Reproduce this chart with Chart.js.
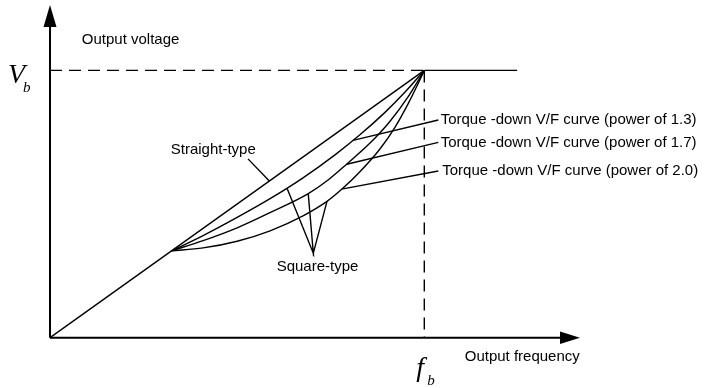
<!DOCTYPE html>
<html>
<head>
<meta charset="utf-8">
<script src="https://cdn.jsdelivr.net/npm/chart.js@4"></script>
<style>
  html, body { margin: 0; padding: 0; background: #fff; }
  #wrap { width: 707px; height: 388px; }
</style>
</head>
<body>
<div id="wrap"><canvas id="vf" width="707" height="388"></canvas></div>
<script>
// frequency and voltage in % of base values (f_b = 100, V_b = 100)
const straightF = [0, 100];
const straightV = [0, 100];
const curve13F = [32.5, 40.9, 50.0, 58.8, 67.6, 76.4, 82.8, 89.5, 94.8, 100];
const curve13V = [32.5, 38.2, 45.0, 52.0, 59.8, 68.7, 75.9, 84.3, 91.8, 100];
const curve17F = [32.5, 40.9, 50.0, 58.8, 68.9, 74.3, 79.4, 85.5, 90.8, 95.7, 100];
const curve17V = [32.5, 36.3, 41.1, 46.8, 53.8, 59.0, 65.1, 72.8, 80.9, 90.2, 100];
const curve20F = [32.5, 40.9, 50.0, 58.8, 67.6, 74.0, 78.0, 82.8, 88.2, 92.2, 95.7, 98.3, 100];
const curve20V = [32.5, 33.6, 36.1, 40.0, 45.6, 51.0, 55.6, 62.1, 70.7, 78.8, 87.6, 94.9, 100];
const baseVoltF = [0, 100];
const baseVoltV = [100, 100];
const flatF = [100, 124.8];
const flatV = [100, 100];
const baseFreqF = [100, 100];
const baseFreqV = [100, 0];

// callout leader lines
const leaderStraight = [[52.9, 66.9], [58.6, 58.6]];
const leaderSquare = [[63.3, 56.0], [70.35, 31.6], [69.0, 53.8], [70.35, 31.6], [74.0, 51.0]];
const leader13 = [[103.74, 81.45], [80.95, 73.8]];
const leader17 = [[103.74, 73.1], [79.27, 64.9]];
const leader20 = [[103.74, 62.36], [77.9, 55.6]];

const torqueLabels = [
  'Torque -down V/F curve (power of 1.3)',
  'Torque -down V/F curve (power of 1.7)',
  'Torque -down V/F curve (power of 2.0)'
];

const xy = (fs, vs) => fs.map((f, i) => ({ x: f, y: vs[i] }));
const pairs = arr => arr.map(p => ({ x: p[0], y: p[1] }));

function line(data, extra) {
  return Object.assign({
    data: data,
    borderColor: '#000',
    borderWidth: 1.4,
    pointRadius: 0,
    fill: false,
    tension: 0
  }, extra || {});
}

const SANS = '15px "Liberation Sans", Arial, sans-serif';
const SERIF_BIG = 'italic 28px "Liberation Serif", "Times New Roman", serif';
const SERIF_SUB = 'italic 15px "Liberation Serif", "Times New Roman", serif';

const decorations = {
  id: 'decorations',
  afterDraw(chart) {
    const ctx = chart.ctx;
    const xs = chart.scales.x, ys = chart.scales.y;
    const px = v => xs.getPixelForValue(v);
    const py = v => ys.getPixelForValue(v);
    const area = chart.chartArea;
    const x0 = px(0), y0 = py(0);

    ctx.save();
    ctx.strokeStyle = '#000';
    ctx.fillStyle = '#000';
    ctx.lineWidth = 2;

    // axes
    ctx.beginPath();
    ctx.moveTo(x0, y0);
    ctx.lineTo(x0, area.top + 20);
    ctx.moveTo(x0, y0);
    ctx.lineTo(area.right - 19, y0);
    ctx.stroke();

    // arrow heads
    ctx.beginPath();
    ctx.moveTo(x0, area.top);
    ctx.lineTo(x0 - 6.5, area.top + 22);
    ctx.lineTo(x0 + 6.5, area.top + 22);
    ctx.closePath();
    ctx.fill();
    ctx.beginPath();
    ctx.moveTo(area.right, y0);
    ctx.lineTo(area.right - 20, y0 - 6.3);
    ctx.lineTo(area.right - 20, y0 + 6.3);
    ctx.closePath();
    ctx.fill();

    // labels
    ctx.font = SANS;
    ctx.textBaseline = 'alphabetic';
    ctx.textAlign = 'left';
    ctx.fillText('Output voltage', px(8.5), py(109.9));
    ctx.fillText('Straight-type', px(32.25), py(68.9));
    ctx.fillText('Square-type', px(60.55), py(24.95));
    ctx.fillText(torqueLabels[0], px(104.37), py(79.95));
    ctx.fillText(torqueLabels[1], px(104.37), py(71.16));
    ctx.fillText(torqueLabels[2], px(104.8), py(60.87));
    ctx.fillText('Output frequency', px(110.8), py(-8.72));

    // V_b and f_b
    ctx.font = SERIF_BIG;
    ctx.fillText('V', x0 - 42, py(100) + 12.5);
    ctx.fillText('f', px(100) - 8, y0 + 38.5);
    ctx.font = SERIF_SUB;
    ctx.fillText('b', x0 - 27, py(100) + 21.5);
    ctx.fillText('b', px(100) + 3, y0 + 47.5);
    ctx.restore();
  }
};

new Chart(document.getElementById('vf').getContext('2d'), {
  type: 'line',
  data: {
    datasets: [
      line(xy(straightF, straightV)),
      line(xy(curve13F, curve13V), { cubicInterpolationMode: 'monotone' }),
      line(xy(curve17F, curve17V), { cubicInterpolationMode: 'monotone' }),
      line(xy(curve20F, curve20V), { cubicInterpolationMode: 'monotone' }),
      line(xy(baseVoltF, baseVoltV), { borderDash: [12, 7] }),
      line(xy(flatF, flatV)),
      line(xy(baseFreqF, baseFreqV), { borderDash: [12, 7] }),
      line(pairs(leaderStraight)),
      line(pairs(leaderSquare)),
      line(pairs(leader13)),
      line(pairs(leader17)),
      line(pairs(leader20))
    ]
  },
  options: {
    responsive: false,
    animation: false,
    layout: { padding: { left: 50, right: 127, top: 5, bottom: 50.3 } },
    scales: {
      x: { type: 'linear', min: 0, max: 141.6, display: false },
      y: { type: 'linear', min: 0, max: 124.47, display: false }
    },
    plugins: {
      legend: { display: false },
      tooltip: { enabled: false }
    }
  },
  plugins: [decorations]
});
</script>
</body>
</html>
